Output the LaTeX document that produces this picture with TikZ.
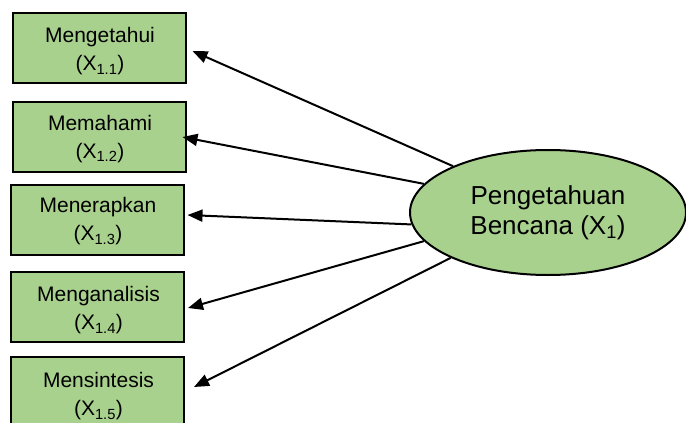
\documentclass[tikz,border=0pt]{standalone}
\usepackage{fontspec}
\setmainfont{Liberation Sans}
\usetikzlibrary{arrows.meta,shapes.geometric}
\definecolor{leaf}{HTML}{A9D18E}
\begin{document}
\begin{tikzpicture}[x=1pt,y=-1pt,
  indbox/.style={draw=black,line width=2pt,fill=leaf,minimum width=173pt,minimum height=70pt,inner sep=0pt},
  indtext/.style={align=center,inner sep=0pt,font=\fontsize{21}{28}\selectfont},
  latent/.style={ellipse,draw=black,line width=2pt,fill=leaf,minimum width=276pt,minimum height=125pt,
    align=center,inner sep=0pt,font=\fontsize{26}{30}\selectfont},
  loading/.style={line width=2pt,-{Triangle[length=15pt,width=12pt]}}]
\useasboundingbox (0,0) rectangle (686,423);
\clip (0,0) rectangle (686,423);
% indicator boxes
\node[indbox] (b1) at (99,47.5) {};
\node[indbox] (b2) at (99,137) {};
\node[indbox] (b3) at (97,219.5) {};
\node[indbox] (b4) at (97.5,306.5) {};
\node[indbox] (b5) at (97.5,391.5) {};
\node[indtext] (t1) at ([shift={(1,4)}]b1.center) {Mengetahui\\(X\textsubscript{1.1})};
\node[indtext] (t2) at ([shift={(1,2)}]b2.center) {Memahami\\(X\textsubscript{1.2})};
\node[indtext] (t3) at ([shift={(1,2)}]b3.center) {Menerapkan\\(X\textsubscript{1.3})};
\node[indtext] (t4) at ([shift={(1,4)}]b4.center) {Menganalisis\\(X\textsubscript{1.4})};
\node[indtext] (t5) at ([shift={(1,5)}]b5.center) {Mensintesis\\(X\textsubscript{1.5})};
% latent variable
\node[latent] (E) at (548,212.5) {Pengetahuan\\Bencana (X\textsubscript{1})};
% loadings
\draw[loading] (E.154) -- ([shift={(6,3.5)}]b1.east);
\draw[loading] (E.167) -- ([shift={(-4,0)}]b2.east);
\draw[loading] (E.185.6) -- ([shift={(3,-4.5)}]b3.east);
\draw[loading] (E.193) -- ([shift={(3,1.5)}]b4.east);
\draw[loading] (E.205) -- ([shift={(9,-4.5)}]b5.east);
\end{tikzpicture}
\end{document}
